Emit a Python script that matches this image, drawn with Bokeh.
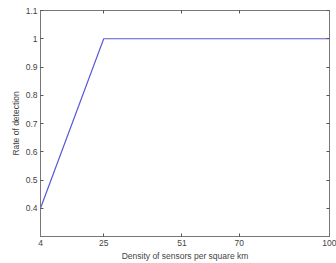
from bokeh.plotting import figure
from bokeh.models import FixedTicker, LinearAxis, Range1d, CustomLabelingPolicy
from bokeh.embed import file_html
from bokeh.resources import INLINE

density = [4, 25, 51, 70, 100]
rate = [0.4, 1.0, 1.0, 1.0, 1.0]
x_ticks = [4, 25, 51, 70, 100]
y_ticks = [0.4, 0.5, 0.6, 0.7, 0.8, 0.9, 1.0, 1.1]
y_labels = {0.4: "0.4", 0.5: "0.5", 0.6: "0.6", 0.7: "0.7", 0.8: "0.8", 0.9: "0.9", 1.0: "1", 1.1: "1.1"}

p = figure(width=336, height=263, output_backend="svg", toolbar_location=None,
           x_range=Range1d(4, 100), y_range=Range1d(0.3, 1.1),
           min_border_left=40, min_border_right=7, min_border_top=10, min_border_bottom=25)
p.grid.visible = False
p.outline_line_color = "#777777"
p.line(density, rate, line_color="#5a5ad8", line_width=1.2)

font = "Liberation Sans"
for ax in [p.xaxis[0], p.yaxis[0]]:
    ax.major_tick_in = 3
    ax.major_tick_out = 0
    ax.minor_tick_line_color = None
    ax.axis_line_color = "#777777"
    ax.major_tick_line_color = "#555555"
    ax.major_label_text_font = font
    ax.major_label_text_font_size = "8.5px"
    ax.major_label_text_color = "#444444"
    ax.axis_label_text_font = font
    ax.axis_label_text_font_size = "8.5px"
    ax.axis_label_text_font_style = "normal"
    ax.axis_label_text_color = "#444444"
    ax.major_label_standoff = 3
    ax.axis_label_standoff = 2

p.xaxis[0].ticker = FixedTicker(ticks=x_ticks)
p.yaxis[0].ticker = FixedTicker(ticks=y_ticks)
p.yaxis[0].major_label_overrides = y_labels
p.xaxis[0].axis_label = "Density of sensors per square km"
p.yaxis[0].axis_label = "Rate of detection"

hide = "for (let i = 0; i < indices.size; i++) { indices.unset(i) } return indices"
top = LinearAxis(ticker=FixedTicker(ticks=x_ticks), major_label_policy=CustomLabelingPolicy(code=hide),
                 major_label_standoff=0, major_label_text_font_size="1px",
                 major_tick_in=3, major_tick_out=0, minor_tick_line_color=None,
                 axis_line_color="#777777", major_tick_line_color="#555555")
right = LinearAxis(ticker=FixedTicker(ticks=y_ticks), major_label_policy=CustomLabelingPolicy(code=hide),
                   major_label_standoff=0, major_label_text_font_size="1px",
                   major_tick_in=3, major_tick_out=0, minor_tick_line_color=None,
                   axis_line_color="#777777", major_tick_line_color="#555555")
p.add_layout(top, "above")
p.add_layout(right, "right")

open("out.html", "w").write(file_html(p, INLINE))
